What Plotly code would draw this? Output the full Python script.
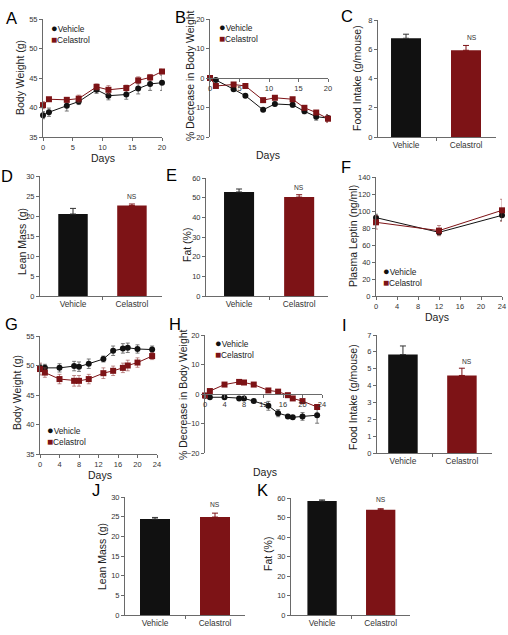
import plotly.graph_objects as go

W, H = 508, 635
RED = "#7d1316"
BLK = "#111111"
AX = "#6a6a6a"
FONT = "Liberation Sans, Arial, sans-serif"

# ---------------- data ----------------
a_days = [0, 1, 4, 6, 9, 11, 14, 16, 18, 20]
a_veh = [38.7, 39.2, 40.3, 41.0, 43.0, 42.0, 42.2, 43.2, 44.0, 44.2]
a_veh_err = [0.6, 0.7, 0.9, 0.5, 0.6, 0.7, 0.8, 0.9, 1.1, 1.3]
a_cel = [40.4, 41.4, 41.3, 41.5, 43.5, 43.0, 43.3, 44.6, 45.1, 46.1]
a_cel_err = [0.6, 0.3, 0.4, 0.6, 0.5, 0.7, 0.5, 0.6, 0.5, 0.4]

b_days = [0, 1, 4, 6, 9, 11, 14, 16, 18, 20]
b_veh = [0.0, -0.7, -3.8, -6.0, -10.8, -8.8, -9.1, -11.3, -13.1, -13.6]
b_veh_err = [0.2, 0.3, 0.5, 0.5, 0.5, 0.6, 0.8, 0.8, 1.2, 1.2]
b_cel = [0.0, -2.7, -2.2, -2.7, -7.5, -6.7, -7.2, -10.1, -11.7, -13.8]
b_cel_err = [0.2, 0.3, 0.4, 0.4, 0.6, 0.6, 0.6, 0.6, 0.6, 1.3]

groups = ["Vehicle", "Celastrol"]
c_food = [6.75, 5.93]
c_food_err = [0.28, 0.33]
d_lean = [20.5, 22.6]
d_lean_err = [1.4, 0.4]
e_fat = [52.9, 50.3]
e_fat_err = [1.5, 1.2]

f_days = [0, 12, 24]
f_veh = [92.2, 74.9, 94.9]
f_veh_err = [4, 3, 6]
f_cel = [86.7, 76.9, 100.8]
f_cel_err = [8, 6, 13]

g_days = [0, 1, 4, 7, 8, 10, 13, 15, 17, 18, 20, 23]
g_veh = [49.6, 49.6, 49.6, 49.9, 49.8, 50.3, 51.1, 52.5, 52.9, 53.0, 52.8, 52.7]
g_veh_err = [0.6, 0.6, 0.7, 0.8, 0.8, 0.8, 0.5, 0.8, 0.8, 0.8, 0.7, 0.6]
g_cel = [49.4, 48.8, 47.7, 47.4, 47.4, 47.7, 48.7, 49.1, 49.6, 50.0, 50.5, 51.6]
g_cel_err = [1.0, 0.8, 0.8, 0.9, 0.9, 0.8, 0.9, 0.8, 0.8, 0.9, 0.8, 0.6]

h_days = [0, 1, 4, 7, 8, 10, 13, 15, 17, 18, 20, 23]
h_veh = [-0.6, -1.1, -1.1, -1.5, -1.5, -2.4, -4.0, -6.5, -7.6, -7.9, -7.6, -7.2]
h_veh_err = [0.3, 0.3, 0.5, 0.5, 0.5, 0.5, 1.5, 1.2, 0.6, 0.6, 1.3, 2.7]
h_cel = [-0.5, 1.0, 3.2, 4.1, 3.9, 3.2, 1.2, 0.8, -0.4, -1.5, -2.4, -4.4]
h_cel_err = [0.3, 0.3, 0.3, 0.3, 0.3, 0.3, 0.3, 0.3, 0.3, 0.3, 0.5, 0.8]

i_food = [5.84, 4.60]
i_food_err = [0.51, 0.43]
j_lean = [24.4, 24.9]
j_lean_err = [0.4, 1.0]
k_fat = [58.5, 54.0]
k_fat_err = [0.5, 0.5]

# ---------------- layout helpers ----------------
def fx(p):
    return p / W

def fy(p):
    return 1 - p / H

fig = go.Figure()
layout = dict(
    width=W, height=H, margin=dict(l=0, r=0, t=0, b=0),
    paper_bgcolor="white", plot_bgcolor="white", showlegend=False,
    font=dict(family=FONT, size=8, color="#333"),
)
annotations = []

def axis_common():
    return dict(showline=True, linecolor=AX, linewidth=1, ticks="outside", ticklen=3,
                tickcolor=AX, showgrid=False, zeroline=False, automargin=False,
                ticklabeloverflow="allow", tickfont=dict(size=7.5, color="#333"))

def add_axes(n, xd, yd, xr, yr, ydt, xdt=None, xpos=None, bar=False):
    xa = axis_common()
    xa.update(domain=[fx(xd[0]), fx(xd[1])], range=xr, anchor="y%d" % n)
    if bar:
        xa.update(tickmode="array", tickvals=[0, 1], ticktext=groups, ticks="",
                  tickfont=dict(size=8.3, color="#333"),
                  minor=dict(tickmode="array", tickvals=[0.5], ticks="outside",
                             ticklen=3, tickcolor=AX))
    else:
        xa.update(dtick=xdt, tick0=0)
    if xpos is not None:
        xa.update(anchor="free", position=fy(xpos))
    ya = axis_common()
    ya.update(domain=[fy(yd[1]), fy(yd[0])], range=yr, dtick=ydt, anchor="x%d" % n)
    layout["xaxis%d" % n] = xa
    layout["yaxis%d" % n] = ya

def ytitle(xp, yp, t):
    annotations.append(dict(x=fx(xp), y=fy(yp), xref="paper", yref="paper", text=t,
                            textangle=-90, showarrow=False, xanchor="center", yanchor="middle",
                            font=dict(size=10.5, color="#222")))

def days_label(xp, yp):
    annotations.append(dict(x=fx(xp), y=fy(yp), xref="paper", yref="paper", text="Days",
                            showarrow=False, xanchor="center", yanchor="middle",
                            font=dict(size=10.5, color="#222")))

def line_pair(n, days, veh, veh_err, cel, cel_err):
    for vals, err, col, ecol, sym in [
        (veh, veh_err, BLK, "rgba(90,90,90,0.8)", "circle"),
        (cel, cel_err, RED, "rgba(150,70,70,0.6)", "square"),
    ]:
        fig.add_trace(go.Scatter(
            x=days, y=vals, mode="lines+markers", xaxis="x%d" % n, yaxis="y%d" % n,
            line=dict(color=col, width=1), marker=dict(color=col, size=6, symbol=sym),
            error_y=dict(type="data", array=err, color=ecol, thickness=1, width=2),
            cliponaxis=False,
        ))

def bar_pair(n, vals, errs, ns_y, ns_dx=0):
    for i, (col, ecol) in enumerate([(BLK, "#333"), (RED, RED)]):
        fig.add_trace(go.Bar(
            x=[i], y=[vals[i]], width=0.5, xaxis="x%d" % n, yaxis="y%d" % n,
            marker=dict(color=col, line=dict(width=0)),
            error_y=dict(type="data", symmetric=False, array=[errs[i]], arrayminus=[0],
                         color=ecol, thickness=1, width=3),
        ))
    annotations.append(dict(x=1 + ns_dx, y=ns_y, xref="x%d" % n, yref="y%d" % n, text="NS",
                            showarrow=False, font=dict(size=6.7, color="#333")))

def legend(xp, ytop):
    text = ('<span style="color:%s;font-size:11px">\u25cf</span>Vehicle<br>'
            '<span style="color:%s;font-size:10px">\u25a0</span>Celastrol') % (BLK, RED)
    annotations.append(dict(
        x=fx(xp), y=fy(ytop), xref="paper", yref="paper", xanchor="left", yanchor="top",
        align="left", text=text, showarrow=False, font=dict(size=8.3, color="#222")))

def letter(xp, yp, t):
    annotations.append(dict(x=fx(xp), y=fy(yp), xref="paper", yref="paper", text=t,
                            showarrow=False, xanchor="center", yanchor="middle",
                            font=dict(size=16.5, color="black")))

# ---------------- panels ----------------
# A
add_axes(1, (43, 162), (19, 137), [0, 20], [35, 55], 5, xdt=5)
line_pair(1, a_days, a_veh, a_veh_err, a_cel, a_cel_err)
legend(49, 20)
letter(11, 18, "A")
ytitle(20, 78, "Body Weight (g)")
days_label(103, 158)

# B
add_axes(2, (210, 328), (19, 137), [0, 20], [-20, 20], 10, xdt=5, xpos=78)
line_pair(2, b_days, b_veh, b_veh_err, b_cel, b_cel_err)
legend(217, 19)
letter(180, 17, "B")
ytitle(190, 76, "% Decrease in Body Weight")
days_label(268, 155)

# C
add_axes(3, (378, 496), (20, 137), [-0.467, 1.5], [0, 8], 2, bar=True)
bar_pair(3, c_food, c_food_err, 6.8, 0.1)
letter(347, 16, "C")
ytitle(357, 78, "Food Intake (g/mouse)")

# D
add_axes(4, (40, 162), (176, 296), [-0.56, 1.51], [0, 30], 5, bar=True)
bar_pair(4, d_lean, d_lean_err, 25.0)
letter(7, 176, "D")
ytitle(22, 242, "Lean Mass (g)")

# E
add_axes(5, (206, 328), (178, 296), [-0.55, 1.48], [0, 60], 10, bar=True)
bar_pair(5, e_fat, e_fat_err, 55.4)
letter(171, 175, "E")
ytitle(187, 245, "Fat (%)")

# F
add_axes(6, (376, 502), (177, 296), [0, 24], [0, 140], 20, xdt=4)
line_pair(6, f_days, f_veh, f_veh_err, f_cel, f_cel_err)
legend(381, 263)
letter(346, 167, "F")
ytitle(353, 236, "Plasma Leptin (ng/ml)")
days_label(437, 317)

# G
add_axes(7, (40, 157), (336, 454), [0, 24], [35, 55], 5, xdt=4)
line_pair(7, g_days, g_veh, g_veh_err, g_cel, g_cel_err)
legend(45, 422)
letter(11, 324, "G")
ytitle(17, 393, "Body Weight (g)")
days_label(100, 475)

# H
add_axes(8, (205, 322), (335, 453), [0, 24], [-20, 20], 10, xdt=4, xpos=394)
line_pair(8, h_days, h_veh, h_veh_err, h_cel, h_cel_err)
legend(213, 335)
letter(175, 324, "H")
ytitle(183, 395, "% Decrease in Body Weight")
days_label(265, 472)

# I
add_axes(9, (377, 492), (335, 453), [-0.44, 1.51], [0, 7], 1, bar=True)
bar_pair(9, i_food, i_food_err, 5.42, 0.08)
letter(344, 325, "I")
ytitle(353, 397, "Food Intake (g/mouse)")

# J
add_axes(10, (125, 245), (497, 615), [-0.5, 1.5], [0, 30], 5, bar=True)
bar_pair(10, j_lean, j_lean_err, 28.1)
letter(96, 490, "J")
ytitle(102, 557, "Lean Mass (g)")

# K
add_axes(11, (291, 410), (498, 615), [-0.53, 1.5], [0, 60], 10, bar=True)
bar_pair(11, k_fat, k_fat_err, 59.3)
letter(262, 490, "K")
ytitle(268, 554, "Fat (%)")

layout["annotations"] = annotations
fig.update_layout(**layout)
# remove the browser's default 8px body margin so the 508x635 figure fills the window exactly
fig.write_html("out.html", config={"displayModeBar": False},
               post_script="document.body.style.margin='0px';")
